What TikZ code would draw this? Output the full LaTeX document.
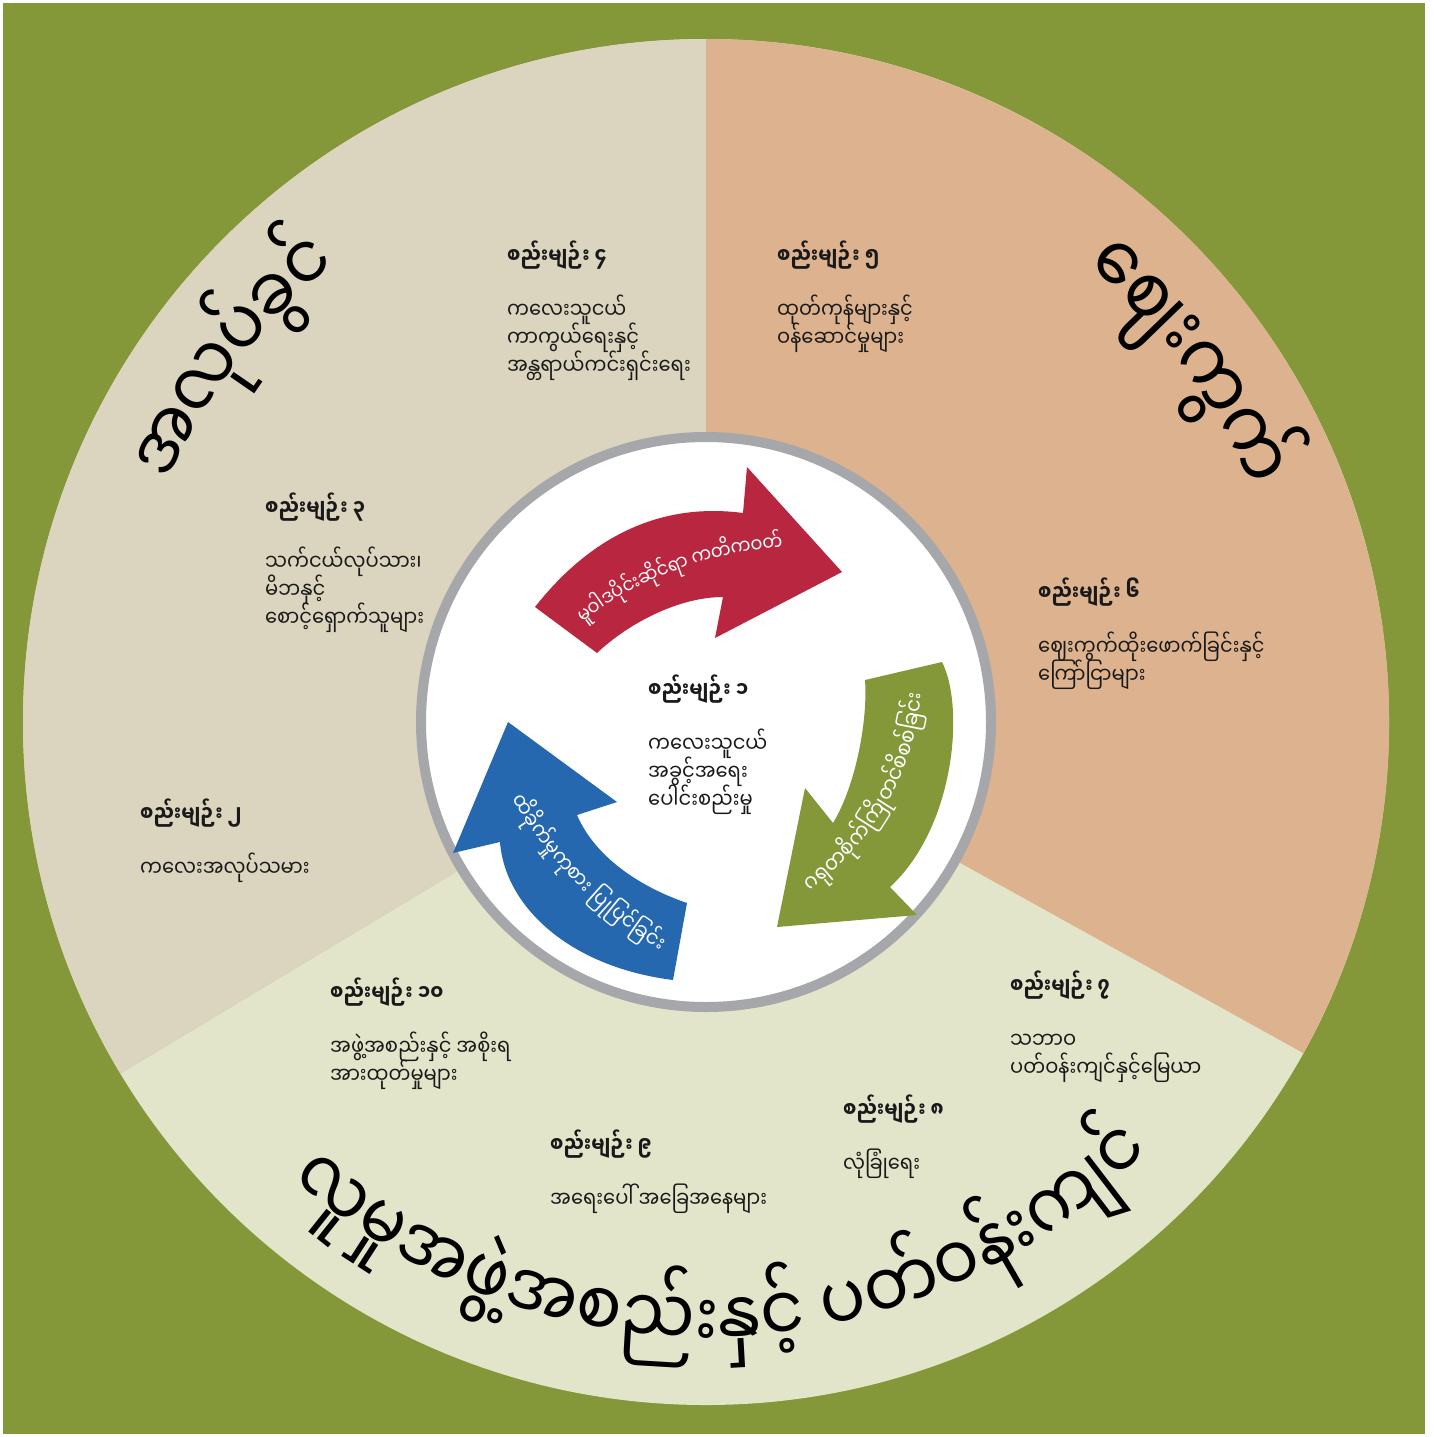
\documentclass[tikz,border=0pt]{standalone}
\usepackage{fontspec}
\usetikzlibrary{calc}
\newfontfamily\mm[Script=Myanmar,FakeStretch=0.87]{Noto Sans Myanmar UI}
\definecolor{bggreen}{RGB}{132,152,58}
\definecolor{workc}{RGB}{219,212,190}
\definecolor{marketc}{RGB}{220,179,142}
\definecolor{commc}{RGB}{226,229,201}
\definecolor{redc}{RGB}{184,38,63}
\definecolor{bluec}{RGB}{37,104,176}
\definecolor{ringc}{RGB}{166,167,170}
\definecolor{ink}{RGB}{25,25,25}
% measure clusters (outside the picture): #1 prefix, #2 target arc length, #3 list macro
\newcommand\mmprep[3]{%
  \gdef\mmtotal{0}%
  \foreach \cl [count=\i] in #3{%
    \setbox0=\hbox{\mm\fontsize{10}{10}\selectfont\cl}%
    \pgfmathsetmacro\mmtmp{\wd0}%
    \expandafter\xdef\csname mmw#1\i\endcsname{\mmtmp}%
    \pgfmathsetmacro\mmtmp{\mmtotal+\wd0}%
    \xdef\mmtotal{\mmtmp}%
  }%
  \pgfmathsetmacro\mmtmp{10*(#2)/max(\mmtotal,1)}%
  \expandafter\xdef\csname mmsz#1\endcsname{\mmtmp}%
}
% #1 prefix, #2 centre, #3 radius, #4 mid angle, #5 dir (1 ccw tops in, -1 cw tops out),
% #6 colour, #7 height ratio, #8 target arc length, #9 list macro
\newcommand\arctext[9]{%
  \edef\mmsize{\csname mmsz#1\endcsname}%
  \pgfmathsetmacro\mmth{(#7)*\mmsize}%
  \pgfmathsetmacro\mmstart{#4-(#5)*((#8)/2)/(#3)*57.29578}%
  \gdef\mmpos{0}%
  \foreach \cl [count=\i] in #9{%
    \pgfmathsetmacro\mmwd{\csname mmw#1\i\endcsname*\mmsize/10}%
    \pgfmathsetmacro\mmang{\mmstart+(#5)*(\mmpos+\mmwd/2)/(#3)*57.29578}%
    \pgfmathsetmacro\mmrot{\mmang+90*(#5)}%
    \node[inner sep=0pt, text height=\mmth pt, text depth=0pt, anchor=center, rotate=\mmrot, text=#6, font=\mm\fontsize{\mmsize}{\mmsize}\selectfont] (#1\i) at ($(#2)+(\mmang:#3)$) {\cl};%
    \pgfmathsetmacro\mmtmp{\mmpos+\mmwd}%
    \xdef\mmpos{\mmtmp}%
  }%
}
\def\Lrt{မူ,ဝါ,ဒ,ပို,င်း,ဆို,င်,ရာ,~က,တိ,က,ဝ,တ်}
\def\Lgt{ဂ,ရု,တ,စို,က်,ကြို,တ,င်,စိ,စ,စ်,ခြ,င်း}
\def\Lbt{ထိ,ခို,က်,မှု,ကု,စား,~ပြု,ပြ,င်,ခြ,င်း}
\def\Lwl{အ,လု,ပ်,ခွ,င်}
\def\Lml{ဈေး,ကွ,က်}
\def\Lcl{လူ,မှု,အ,ဖွဲ့,အ,စ,ည်း,နှ,င့်,~ပ,တ်,ဝ,န်း,ကျ,င်}
\begin{document}
\mmprep{rt}{219}{\Lrt}\mmprep{gt}{230}{\Lgt}\mmprep{bt}{212}{\Lbt}%
\mmprep{wl}{283}{\Lwl}\mmprep{ml}{287}{\Lml}\mmprep{cl}{925}{\Lcl}%
\begin{tikzpicture}[x=1pt,y=1pt,
  ttl/.style={inner sep=0pt, anchor=base west, text=ink, font=\mm\bfseries\fontsize{21.5}{22}\selectfont},
  bod/.style={inner sep=0pt, anchor=base west, text=ink, font=\mm\fontsize{22.4}{23}\selectfont}]
\useasboundingbox (0,0) rectangle (1433,-1437);
\fill[white] (0,0) rectangle (1433,-1437);
\fill[bggreen] (3,-3) rectangle (1425,-1434);
\coordinate (C) at (706,-722);
% sectors
\fill[commc] (C) circle[radius=683];
\fill[workc] (C) -- ++(90:683) arc[start angle=90,end angle=211,radius=683] -- cycle;
\fill[marketc] (C) -- ++(-29:683) arc[start angle=-29,end angle=90,radius=683] -- cycle;
% inner ring
\draw[ringc, line width=10pt, fill=white] (C) circle[radius=285];
% arrows
\fill[redc] (535,-607) -- (597,-653) .. controls (630,-622) and (680,-597) .. (723,-597) -- (715,-638) -- (842,-572) -- (747,-467) -- (743,-513) .. controls (660,-502) and (590,-537) .. (535,-607) -- cycle;
\fill[bggreen] (865,-680) -- (942,-662) .. controls (965,-707) and (955,-827) .. (890,-887) -- (917,-915) -- (777,-927) -- (805,-788) -- (833,-823) .. controls (855,-787) and (868,-722) .. (865,-680) -- cycle;
\fill[bluec] (673,-980) -- (687,-903) .. controls (640,-887) and (595,-857) .. (577,-815) -- (617,-802) -- (508,-722) -- (453,-853) -- (500,-842) .. controls (505,-907) and (570,-967) .. (673,-980) -- cycle;
% arrow texts
\arctext{rt}{803,-908}{365}{110.4}{-1}{white}{0.67}{219}{\Lrt}
\arctext{gt}{650,-670}{268}{-29.5}{1}{white}{0.67}{230}{\Lgt}
\arctext{bt}{889,-576}{434}{224.6}{1}{white}{0.67}{212}{\Lbt}
% big labels
\arctext{wl}{C}{605}{142.4}{-1}{black}{0.67}{283}{\Lwl}
\arctext{ml}{C}{610}{36.7}{-1}{black}{0.67}{287}{\Lml}
\arctext{cl}{C}{600}{271.9}{1}{black}{0.67}{925}{\Lcl}
% principle blocks
\node[ttl] (t4) at (507,-263) {စည်းမျဉ်း ၄};
\node[bod] (b4a) at (507,-318) {ကလေးသူငယ်};
\node[bod] (b4b) at (507,-346) {ကာကွယ်ရေးနှင့်};
\node[bod] (b4c) at (507,-374) {အန္တရာယ်ကင်းရှင်းရေး};
\node[ttl] (t5) at (777,-263) {စည်းမျဉ်း ၅};
\node[bod] (b5a) at (777,-318) {ထုတ်ကုန်များနှင့်};
\node[bod] (b5b) at (777,-346) {ဝန်ဆောင်မှုများ};
\node[ttl] (t3) at (265,-515) {စည်းမျဉ်း ၃};
\node[bod] (b3a) at (265,-570) {သက်ငယ်လုပ်သား၊};
\node[bod] (b3b) at (265,-598) {မိဘနှင့်};
\node[bod] (b3c) at (265,-626) {စောင့်ရှောက်သူများ};
\node[ttl] (t6) at (1038,-600) {စည်းမျဉ်း ၆};
\node[bod] (b6a) at (1038,-655) {ဈေးကွက်ထိုးဖောက်ခြင်းနှင့်};
\node[bod] (b6b) at (1038,-683) {ကြော်ငြာများ};
\node[ttl] (t1) at (648,-697) {စည်းမျဉ်း ၁};
\node[bod] (b1a) at (648,-752) {ကလေးသူငယ်};
\node[bod] (b1b) at (648,-780) {အခွင့်အရေး};
\node[bod] (b1c) at (648,-808) {ပေါင်းစည်းမှု};
\node[ttl] (t2) at (140,-821) {စည်းမျဉ်း ၂};
\node[bod] (b2a) at (140,-876) {ကလေးအလုပ်သမား};
\node[ttl] (t10) at (330,-1000) {စည်းမျဉ်း ၁၀};
\node[bod] (b10a) at (330,-1055) {အဖွဲ့အစည်းနှင့် အစိုးရ};
\node[bod] (b10b) at (330,-1083) {အားထုတ်မှုများ};
\node[ttl] (t7) at (1010,-993) {စည်းမျဉ်း ၇};
\node[bod] (b7a) at (1010,-1048) {သဘာဝ};
\node[bod] (b7b) at (1010,-1076) {ပတ်ဝန်းကျင်နှင့်မြေယာ};
\node[ttl] (t8) at (843,-1117) {စည်းမျဉ်း ၈};
\node[bod] (b8a) at (843,-1172) {လုံခြုံရေး};
\node[ttl] (t9) at (550,-1152) {စည်းမျဉ်း ၉};
\node[bod] (b9a) at (550,-1207) {အရေးပေါ် အခြေအနေများ};
\end{tikzpicture}
\end{document}
